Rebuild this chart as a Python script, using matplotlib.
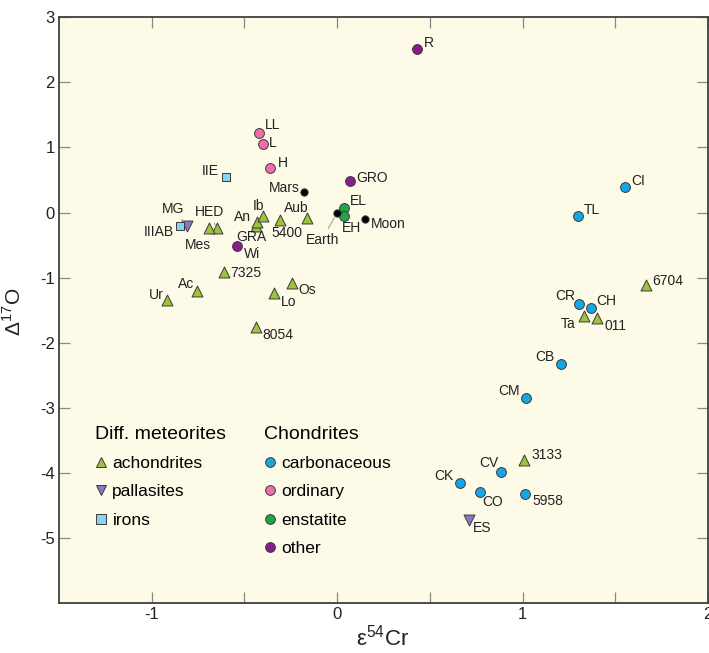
import numpy as np
import matplotlib.pyplot as plt
from matplotlib.lines import Line2D

plt.rcParams['font.family'] = ['Liberation Sans', 'DejaVu Sans']
plt.rcParams['axes.unicode_minus'] = False

# data: eps54Cr (x) vs Delta17O (y)
ach_names = ['Ur', 'Ac', '7325', 'HED', 'Mes', 'GRA', 'An', 'Ib', '5400', 'Aub',
             'Os', 'Lo', '8054', '6704', 'Ta', '011', '3133']
ach_x = [-0.92, -0.755, -0.61, -0.65, -0.69, -0.44, -0.43, -0.40, -0.31, -0.16,
         -0.245, -0.34, -0.44, 1.665, 1.33, 1.40, 1.008]
ach_y = [-1.34, -1.21, -0.92, -0.24, -0.24, -0.20, -0.15, -0.06, -0.11, -0.09,
         -1.08, -1.24, -1.76, -1.11, -1.59, -1.62, -3.80]

pal_names = ['MG', 'ES']
pal_x = [-0.81, 0.71]
pal_y = [-0.20, -4.72]

iron_names = ['IIE', 'IIIAB']
iron_x = [-0.60, -0.85]
iron_y = [0.54, -0.20]

carb_names = ['CI', 'TL', 'CR', 'CH', 'CB', 'CM', 'CV', 'CK', 'CO', '5958']
carb_x = [1.55, 1.30, 1.305, 1.37, 1.207, 1.02, 0.885, 0.66, 0.77, 1.013]
carb_y = [0.40, -0.06, -1.40, -1.47, -2.32, -2.85, -3.99, -4.16, -4.30, -4.32]

ord_names = ['LL', 'L', 'H']
ord_x = [-0.42, -0.40, -0.36]
ord_y = [1.22, 1.05, 0.69]

enst_names = ['EL', 'EH']
enst_x = [0.038, 0.038]
enst_y = [0.07, -0.05]

other_names = ['R', 'GRO', 'Wi']
other_x = [0.43, 0.07, -0.54]
other_y = [2.51, 0.49, -0.52]

planet_names = ['Mars', 'Earth', 'Moon']
planet_x = [-0.18, 0.0, 0.15]
planet_y = [0.32, 0.0, -0.10]

# label placement: (dx px, dy px downwards, horizontal alignment)
label_pos = {
    'Ur': (-3, -5, 'right'), 'Ac': (-3, -7, 'right'), '7325': (6, 1, 'left'),
    'HED': (-7, -16, 'center'), 'Mes': (-11, 17, 'center'), 'GRA': (-4, 11, 'center'),
    'An': (-6, -5, 'right'), 'Ib': (-4, -10, 'center'), '5400': (-8, 13, 'left'),
    'Aub': (1, -10, 'right'), 'Os': (7, 7, 'left'), 'Lo': (7, 9, 'left'),
    '8054': (7, 8, 'left'), '6704': (6, -4, 'left'), 'Ta': (-8, 8, 'right'),
    '011': (8, 8, 'left'), '3133': (7, -5, 'left'),
    'MG': (-3, -17, 'right'), 'ES': (4, 8, 'left'),
    'IIE': (-7, -6, 'right'), 'IIIAB': (-6, 6, 'right'),
    'CI': (7, -6, 'left'), 'TL': (6, -6, 'left'), 'CR': (-4, -8, 'right'),
    'CH': (5, -7, 'left'), 'CB': (-6, -7, 'right'), 'CM': (-7, -7, 'right'),
    'CV': (-3, -9, 'right'), 'CK': (-6, -7, 'right'), 'CO': (2, 10, 'left'),
    '5958': (7, 7, 'left'),
    'LL': (6, -8, 'left'), 'L': (6, -1, 'left'), 'H': (7, -5, 'left'),
    'EL': (6, -7, 'left'), 'EH': (-2, 12, 'left'),
    'R': (7, -6, 'left'), 'GRO': (6, -3, 'left'), 'Wi': (7, 8, 'left'),
    'Mars': (-4, -4, 'right'), 'Earth': (-15, 27, 'center'), 'Moon': (6, 5, 'left'),
}
leader = ['HED', 'Mes', 'MG', 'Earth']

groups = [
    (ach_names, ach_x, ach_y, '^', '#9DC23C', 62),
    (pal_names, pal_x, pal_y, 'v', '#857BC0', 62),
    (iron_names, iron_x, iron_y, 's', '#86D3F2', 30),
    (carb_names, carb_x, carb_y, 'o', '#16A6E6', 50),
    (ord_names, ord_x, ord_y, 'o', '#EE6DAA', 50),
    (enst_names, enst_x, enst_y, 'o', '#25A447', 50),
    (other_names, other_x, other_y, 'o', '#8B1C8C', 50),
    (planet_names, planet_x, planet_y, 'o', '#000000', 28),
]

fig = plt.figure(figsize=(7.09, 6.53), dpi=100)
ax = fig.add_axes([59 / 709, 1 - 603 / 653, 649 / 709, 585.7 / 653])
ax.set_facecolor('#FDFAE7')

for names, xs, ys, mk, col, sz in groups:
    ax.scatter(xs, ys, marker=mk, s=sz, c=col, edgecolors='#3a3a3a',
               linewidths=0.7, zorder=3)
    for n, xi, yi in zip(names, xs, ys):
        dx, dy, ha = label_pos[n]
        arrow = None
        if n in leader:
            arrow = dict(arrowstyle='-', color='#9a9a9a', lw=0.7, shrinkA=1, shrinkB=4)
        ax.annotate(n, (xi, yi), xytext=(dx, -dy), textcoords='offset pixels',
                    ha=ha, va='center', fontsize=10, color='#222222',
                    arrowprops=arrow, zorder=4)

ax.set_xlim(-1.5, 2)
ax.set_ylim(-6, 3)
ax.set_xticks([-1, 0, 1, 2])
ax.set_xticks([-0.5, 0.5, 1.5], minor=True)
ax.set_yticks(range(-5, 4))
ax.tick_params(which='both', direction='in', length=8, width=0.9, color='#888888',
               top=True, right=True, labelsize=12, labelcolor='#222222', pad=3)
for sp in ax.spines.values():
    sp.set_color('#404040')
    sp.set_linewidth(1.3)

ax.set_xlabel('ε$^{\\mathregular{54}}$Cr', fontsize=16, color='#222222')
ax.set_ylabel('Δ$^{\\mathregular{17}}$O', fontsize=15, color='#222222')
ax.xaxis.set_label_coords(0.498, -0.037)
ax.yaxis.set_label_coords(-0.052, 0.497)

# legends
h1 = [Line2D([], [], ls='', marker=g[3], ms=7, mfc=g[4], mec='#3a3a3a', mew=0.7)
      for g in groups[:3]]
leg_kw = dict(loc='upper left', frameon=False, fontsize=12.5, title_fontsize=14,
              alignment='left', borderpad=0, borderaxespad=0, handlelength=0.7,
              handletextpad=0.3, labelspacing=0.75)
leg1 = ax.legend(h1, ['achondrites', 'pallasites', 'irons'], title='Diff. meteorites',
                 bbox_to_anchor=(0.0555, 0.302), **leg_kw)
ax.add_artist(leg1)
h2 = [Line2D([], [], ls='', marker='o', ms=7, mfc=g[4], mec='#3a3a3a', mew=0.7)
      for g in groups[3:7]]
ax.legend(h2, ['carbonaceous', 'ordinary', 'enstatite', 'other'], title='Chondrites',
          bbox_to_anchor=(0.316, 0.302), **leg_kw)

fig.savefig('out.png', dpi=100)
